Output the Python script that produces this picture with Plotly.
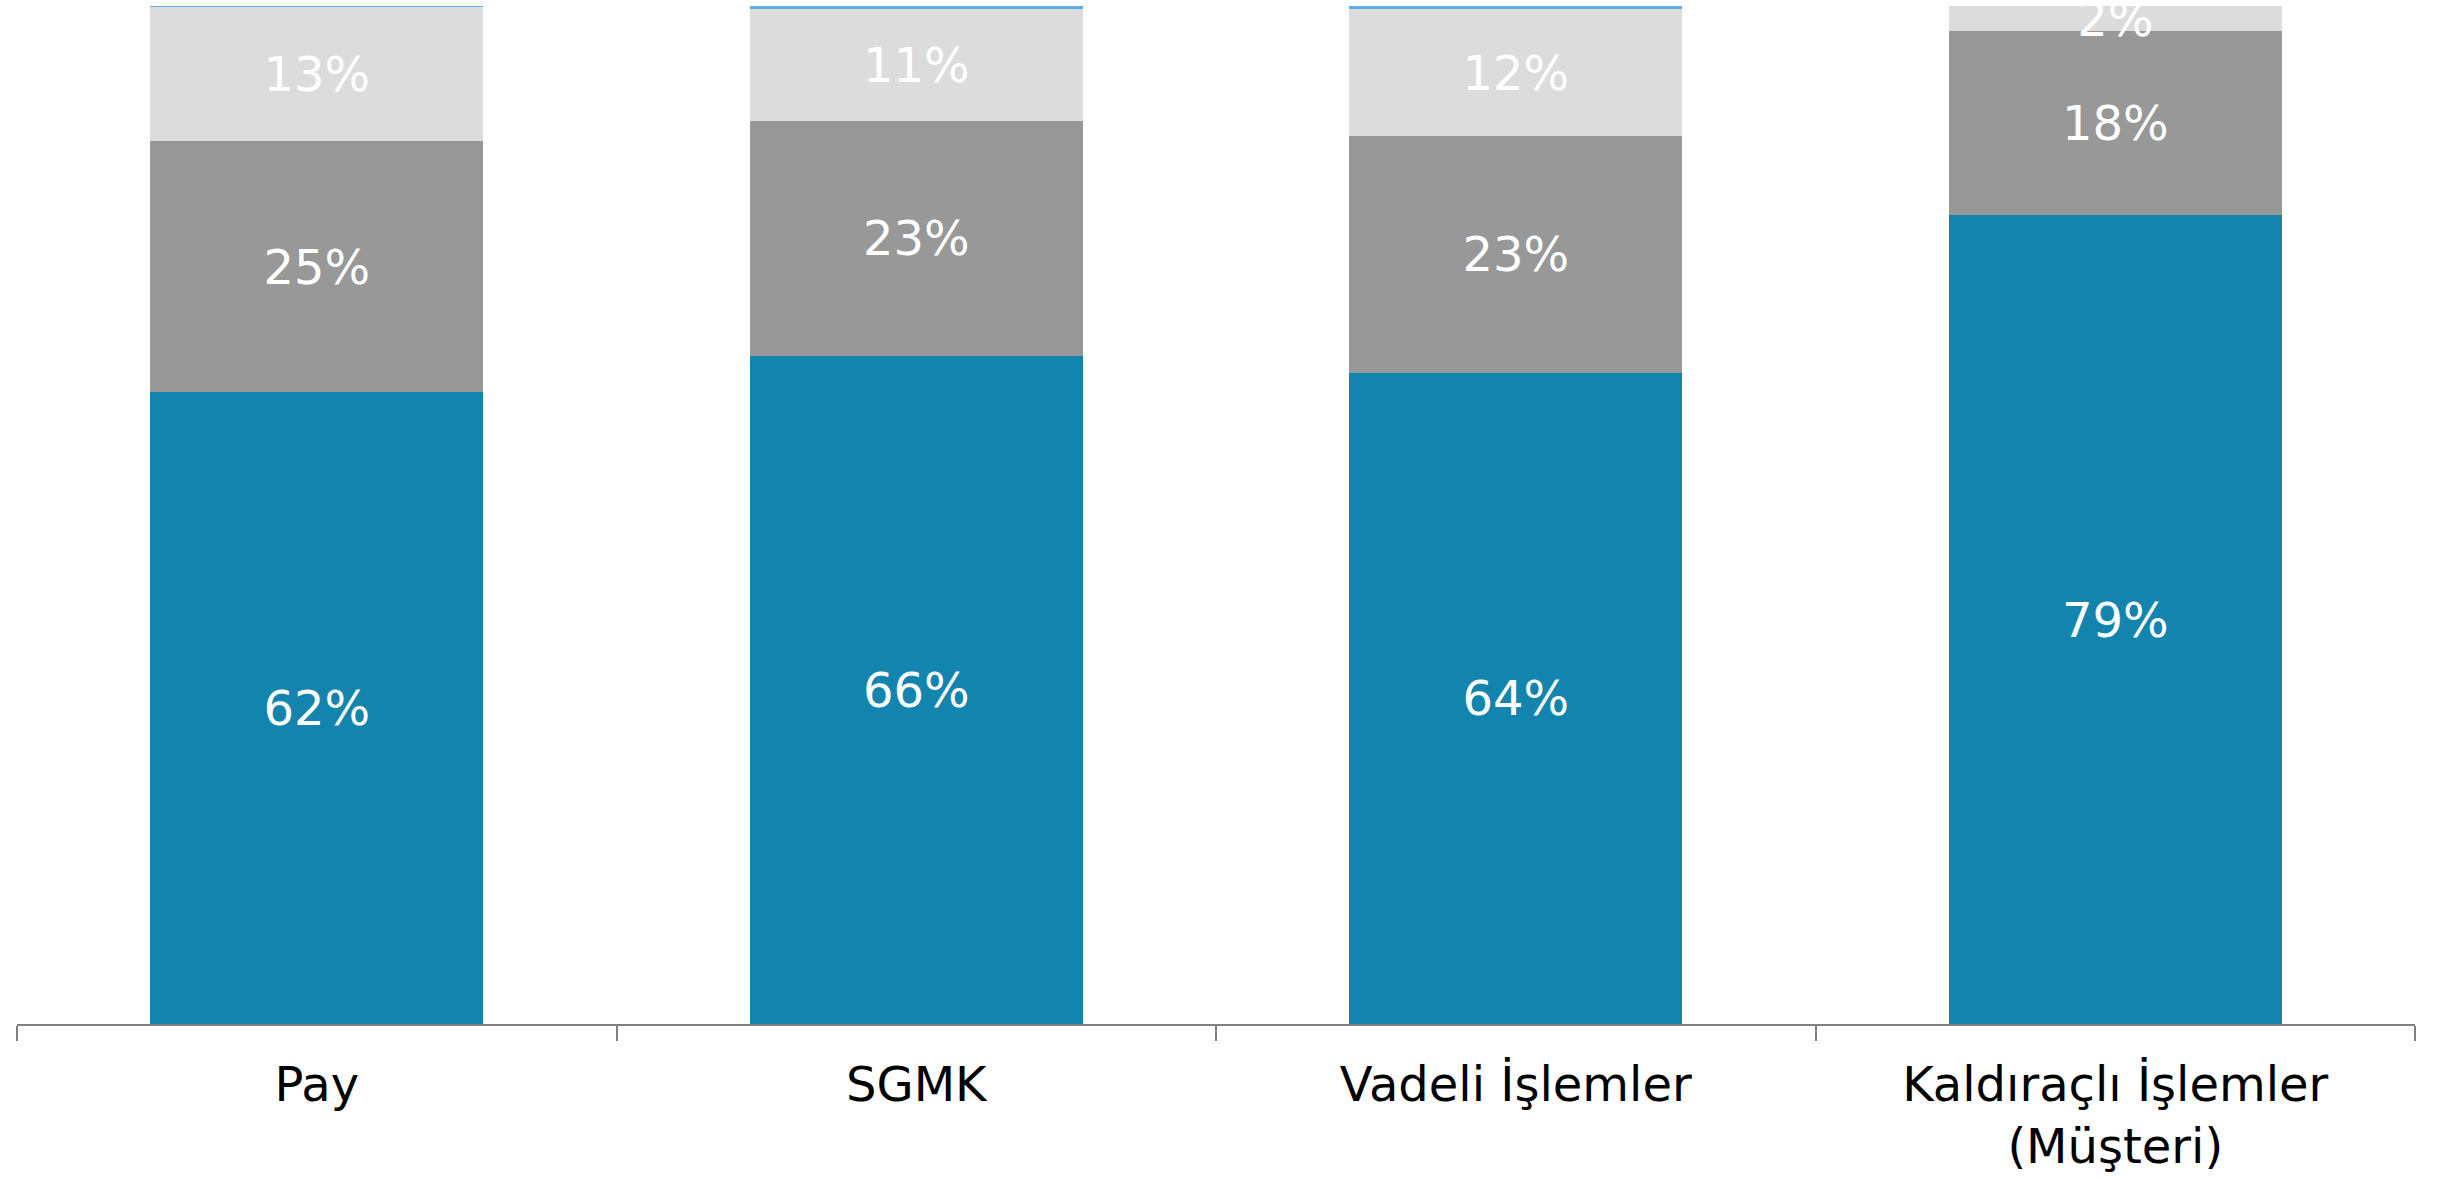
import plotly.graph_objects as go

categories = ["Pay", "SGMK", "Vadeli İşlemler", "Kaldıraçlı İşlemler<br>(Müşteri)"]
series_1 = [62.05, 65.65, 63.98, 79.44]
series_2 = [24.66, 23.03, 23.25, 18.10]
series_3 = [13.17, 11.06, 12.45, 2.46]
series_4 = [0.12, 0.27, 0.33, 0.0]

colors = ["#1384ad", "#989898", "#dcdcdc", "#5fb0e2"]
FONT = "DejaVu Sans, Verdana, sans-serif"

fig = go.Figure()
for i, (name, vals) in enumerate([("Seri 1", series_1), ("Seri 2", series_2),
                                   ("Seri 3", series_3), ("Seri 4", series_4)]):
    fig.add_trace(go.Bar(
        x=categories, y=vals, name=name,
        marker=dict(color=colors[i], line=dict(width=0)),
        texttemplate="%{y:.0f}%" if i < 3 else None,
        textposition="inside" if i < 3 else "none",
        insidetextanchor="middle",
        textfont=dict(family=FONT, size=48, color="white"),
        cliponaxis=True,
        hoverinfo="skip",
    ))

fig.update_layout(
    barmode="stack",
    bargap=0.445,
    width=2441, height=1179,
    margin=dict(l=17, r=26, t=6, b=155, autoexpand=False),
    paper_bgcolor="white", plot_bgcolor="white",
    showlegend=False,
    uniformtext=dict(minsize=48, mode="show"),
    font=dict(family=FONT, size=48, color="black"),
)
fig.update_xaxes(
    type="category", automargin=False,
    showline=True, linecolor="#7f7f7f", linewidth=2,
    ticks="outside", tickson="boundaries", ticklen=15, tickcolor="#7f7f7f", tickwidth=2,
    ticklabelstandoff=17,
    tickfont=dict(family=FONT, size=48, color="black"),
    showgrid=False, zeroline=False,
)
fig.update_yaxes(range=[0, 100], visible=False, showgrid=False, zeroline=False, automargin=False)

fig.write_html(
    "out.html",
    config={"displayModeBar": False, "staticPlot": True},
    post_script="document.body.style.margin='0';document.body.style.overflow='hidden';",
)
